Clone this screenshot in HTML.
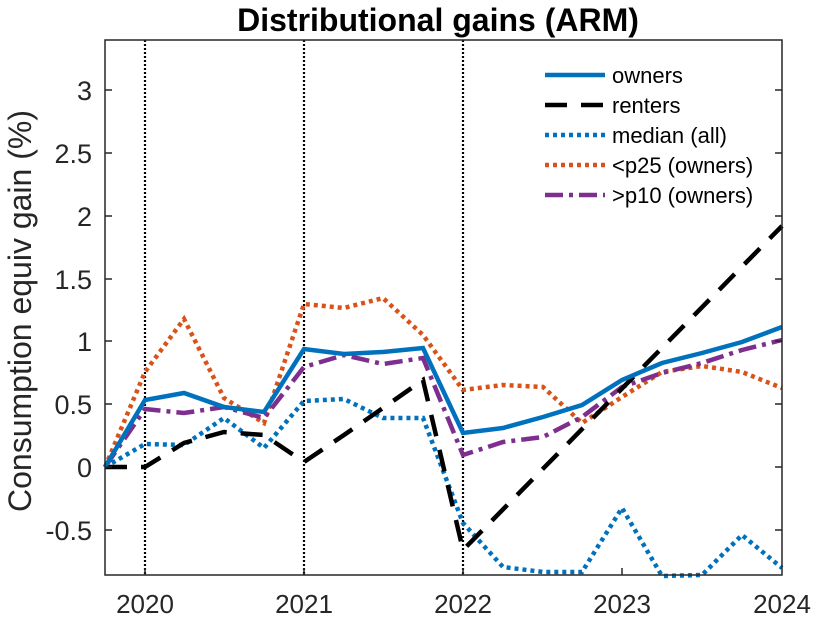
<!DOCTYPE html><html><head><style>body{margin:0;background:#fff}</style></head><body>
<svg width="820" height="623" xmlns="http://www.w3.org/2000/svg" font-family="Liberation Sans, sans-serif">
<rect width="820" height="623" fill="#fff"/>
<text x="438" y="31" font-size="32" font-weight="bold" text-anchor="middle">Distributional gains (ARM)</text>
<text transform="translate(31,311) rotate(-90)" font-size="32" text-anchor="middle" fill="#262626">Consumption equiv gain (%)</text>
<g stroke="#000" stroke-width="2.2" stroke-dasharray="2,2">
<line x1="145" y1="40" x2="145" y2="575"/><line x1="304" y1="40" x2="304" y2="575"/><line x1="463" y1="40" x2="463" y2="575"/>
</g>
<g fill="none" stroke-width="4.5">
<polyline stroke="#D95319" stroke-dasharray="4,4" points="105,467 145,372 184,319 224,398 264,423 304,304 344,308 383,298 423,335 463,390 503,385 543,387 582,423 622,397 662,372 702,366 742,372 782,388"/>
<polyline stroke="#0072BD" stroke-dasharray="4,4" points="105,467 145,444 184,445 224,418 264,448 304,401 344,399 383,418 423,418 463,523 503,567 543,572 582,572 622,508 662,576 702,575 742,535 782,568"/>
<polyline stroke="#7E2F8E" stroke-dasharray="18,6,4,6" points="105,467 145,409 184,413 224,407 264,418 304,367 344,355 383,364 423,358 463,455 503,442 543,437 582,417 622,387 662,373 702,363 742,350 782,340"/>
<polyline stroke="#000" stroke-dasharray="22,14" points="105,467 145,467 184,443 224,432 264,435 304,462 344,435 383,408 423,380 463,550 782,226"/>
<polyline stroke="#0072BD" points="105,467 145,400 184,393 224,407 264,412 304,349 344,354 383,352 423,348 463,433 503,428 543,417 582,405 622,380 662,363 702,353 742,342 782,327"/>
</g>
<g stroke="#262626" stroke-width="1.5" fill="none">
<rect x="105" y="40" width="677" height="535"/>
</g>
<g stroke="#262626" stroke-width="1.5">
<line x1="105" y1="90" x2="112" y2="90"/><line x1="105" y1="153" x2="112" y2="153"/><line x1="105" y1="216" x2="112" y2="216"/><line x1="105" y1="279" x2="112" y2="279"/><line x1="105" y1="341" x2="112" y2="341"/><line x1="105" y1="404" x2="112" y2="404"/><line x1="105" y1="467" x2="112" y2="467"/><line x1="105" y1="530" x2="112" y2="530"/>
<line x1="782" y1="90" x2="775" y2="90"/><line x1="782" y1="153" x2="775" y2="153"/><line x1="782" y1="216" x2="775" y2="216"/><line x1="782" y1="279" x2="775" y2="279"/><line x1="782" y1="341" x2="775" y2="341"/><line x1="782" y1="404" x2="775" y2="404"/><line x1="782" y1="467" x2="775" y2="467"/><line x1="782" y1="530" x2="775" y2="530"/>
<line x1="145" y1="575" x2="145" y2="568"/><line x1="304" y1="575" x2="304" y2="568"/><line x1="463" y1="575" x2="463" y2="568"/><line x1="622" y1="575" x2="622" y2="568"/>
</g>
<g font-size="27" fill="#262626" text-anchor="end">
<text x="92" y="100">3</text><text x="92" y="163">2.5</text><text x="92" y="226">2</text><text x="92" y="289">1.5</text><text x="92" y="351">1</text><text x="92" y="414">0.5</text><text x="92" y="477">0</text><text x="92" y="540">-0.5</text>
</g>
<g font-size="26" fill="#262626" text-anchor="middle">
<text x="145" y="613">2020</text><text x="304" y="613">2021</text><text x="463" y="613">2022</text><text x="622" y="613">2023</text><text x="782" y="613">2024</text>
</g>
<g fill="none" stroke-width="4.5">
<line x1="545" y1="75" x2="605" y2="75" stroke="#0072BD"/>
<line x1="545" y1="105" x2="605" y2="105" stroke="#000" stroke-dasharray="22,14"/>
<line x1="545" y1="135" x2="605" y2="135" stroke="#0072BD" stroke-dasharray="4,4"/>
<line x1="545" y1="165" x2="605" y2="165" stroke="#D95319" stroke-dasharray="4,4"/>
<line x1="545" y1="195" x2="605" y2="195" stroke="#7E2F8E" stroke-dasharray="18,6,4,6"/>
</g>
<g font-size="22" fill="#000">
<text x="612" y="83">owners</text><text x="612" y="113">renters</text><text x="612" y="143">median (all)</text><text x="612" y="173">&lt;p25 (owners)</text><text x="612" y="203">&gt;p10 (owners)</text>
</g>
</svg></body></html>
